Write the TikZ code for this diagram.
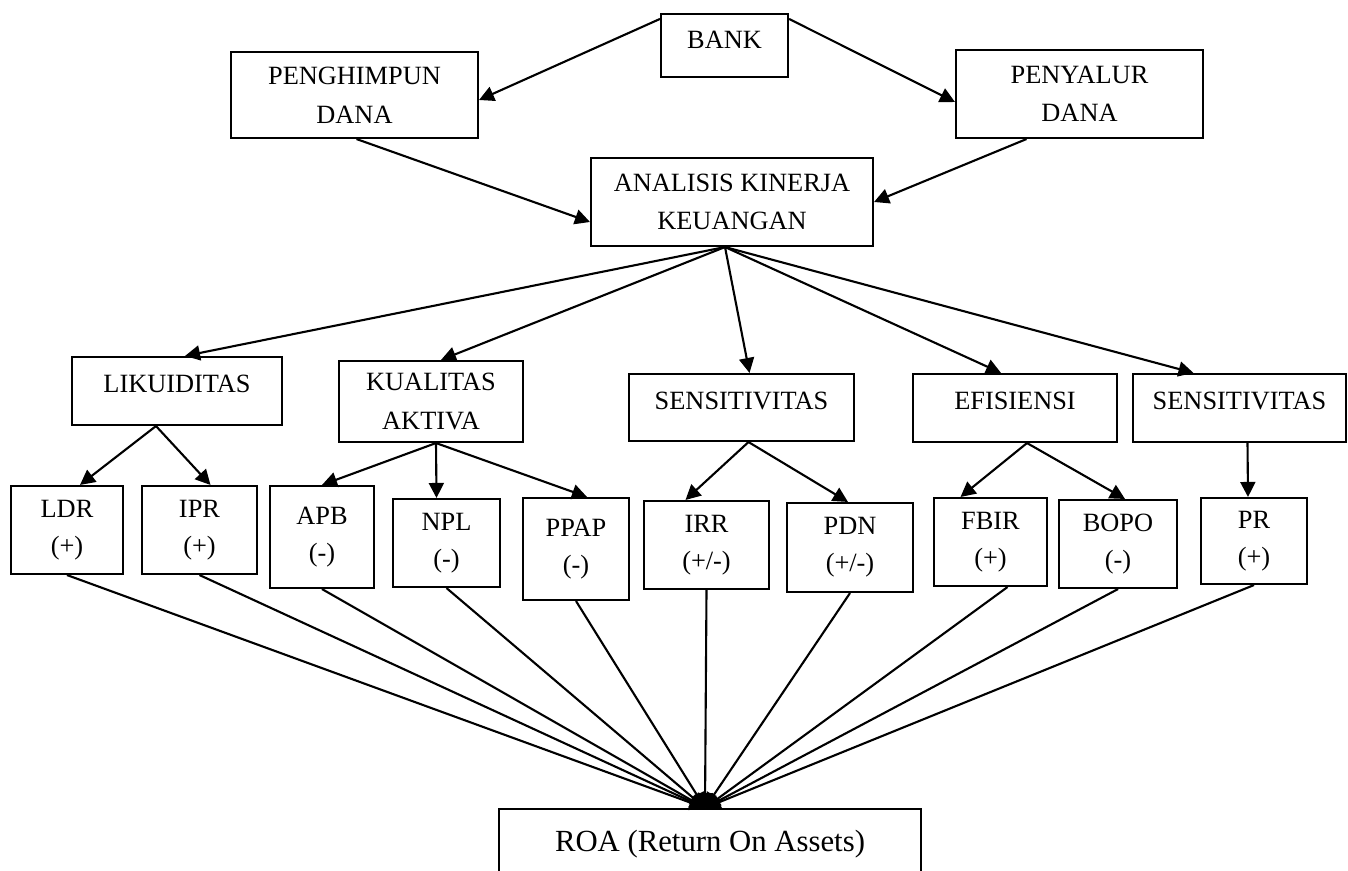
\documentclass[tikz,border=0pt]{standalone}
\usepackage{fontspec}
\setmainfont{Liberation Serif}
\usetikzlibrary{arrows.meta}

\tikzset{
  box/.style={draw,line width=1.2pt,align=center,inner sep=0pt,font=\fontsize{15}{22}\selectfont},
  satu/.style={box,text height=0.34cm,text depth=0.28cm},
  rasio/.style={box,font=\fontsize{15}{21}\selectfont},
}

\begin{document}
\begin{tikzpicture}[x=0.02cm,y=-0.02cm,line width=1.2pt,>={Triangle[length=0.3cm,width=0.3cm]}]
      \useasboundingbox (0,0) rectangle (1348,871);
      % top level
      \node[satu,text depth=0.2cm,minimum width=2.54cm,minimum height=1.26cm] (bank) at (724.5,45.5) {BANK};
      \node[box,minimum width=4.94cm,minimum height=1.72cm] (penghimpun) at (354.5,95) {PENGHIMPUN\\DANA};
      \node[box,minimum width=4.94cm,minimum height=1.76cm] (penyalur) at (1079.5,94) {PENYALUR\\DANA};
      \node[box,minimum width=5.64cm,minimum height=1.76cm] (analisis) at (732,202) {ANALISIS KINERJA\\KEUANGAN};
      % aspek kinerja
      \node[satu,minimum width=4.2cm,minimum height=1.36cm] (likuiditas) at (177,391) {LIKUIDITAS};
      \node[box,minimum width=3.68cm,minimum height=1.62cm] (kualitas) at (431,401.5) {KUALITAS\\AKTIVA};
      \node[satu,minimum width=4.5cm,minimum height=1.34cm] (sensa) at (741.5,407.5) {SENSITIVITAS};
      \node[satu,minimum width=4.08cm,minimum height=1.36cm] (efisiensi) at (1015,408) {EFISIENSI};
      \node[satu,minimum width=4.26cm,minimum height=1.36cm] (sensb) at (1239.5,408) {SENSITIVITAS};
      % rasio
      \node[rasio,minimum width=2.24cm,minimum height=1.76cm] (ldr) at (67,530) {LDR\\(+)};
      \node[rasio,minimum width=2.3cm,minimum height=1.76cm] (ipr) at (199.5,530) {IPR\\(+)};
      \node[rasio,minimum width=2.08cm,minimum height=2.04cm] (apb) at (322,537) {APB\\(-)};
      \node[rasio,minimum width=2.14cm,minimum height=1.76cm] (npl) at (446.5,543) {NPL\\(-)};
      \node[rasio,minimum width=2.12cm,minimum height=2.04cm] (ppap) at (576,549) {PPAP\\(-)};
      \node[rasio,minimum width=2.5cm,minimum height=1.76cm] (irr) at (706.5,545) {IRR\\(+/-)};
      \node[rasio,minimum width=2.52cm,minimum height=1.78cm] (pdn) at (850,547.5) {PDN\\(+/-)};
      \node[rasio,minimum width=2.26cm,minimum height=1.76cm] (fbir) at (990.5,542) {FBIR\\(+)};
      \node[rasio,minimum width=2.36cm,minimum height=1.76cm] (bopo) at (1118,544) {BOPO\\(-)};
      \node[rasio,minimum width=2.12cm,minimum height=1.72cm] (pr) at (1254,541) {PR\\(+)};
      \node[box,minimum width=8.44cm,minimum height=1.42cm,font=\fontsize{17.5}{20}\selectfont] (roa) at (710,844.5) {ROA (Return On Assets)};

      \coordinate (pusat) at ([shift={(-7,0)}]analisis.south);
      \coordinate (masuk) at ([shift={(-5,0)}]roa.north);

      \draw[->] ([shift={(0,6)}]bank.north west) -- ([shift={(0,5)}]penghimpun.east);
      \draw[->] ([shift={(0,6)}]bank.north east) -- ([shift={(0,8)}]penyalur.west);
      \draw[->] ([shift={(2,0)}]penghimpun.south) -- ([shift={(0,20)}]analisis.west);
      \draw[->] ([shift={(-53,0)}]penyalur.south) -- (analisis.east);

      \draw[->] (pusat) -- ([shift={(8,0)}]likuiditas.north);
      \draw[->] (pusat) -- ([shift={(10,0)}]kualitas.north);
      \draw[->] (pusat) -- ([shift={(8,0)}]sensa.north);
      \draw[->] (pusat) -- ([shift={(-14,0)}]efisiensi.north);
      \draw[->] (pusat) -- ([shift={(-46,0)}]sensb.north);

      \draw[->] ([shift={(-21,0)}]likuiditas.south) -- ([shift={(13,0)}]ldr.north);
      \draw[->] ([shift={(-21,0)}]likuiditas.south) -- ([shift={(11,0)}]ipr.north);
      \draw[->] ([shift={(5,0)}]kualitas.south) -- (apb.north);
      \draw[->] ([shift={(5,0)}]kualitas.south) -- ([shift={(-10,0)}]npl.north);
      \draw[->] ([shift={(5,0)}]kualitas.south) -- ([shift={(11,0)}]ppap.north);
      \draw[->] ([shift={(7,0)}]sensa.south) -- ([shift={(-21,0)}]irr.north);
      \draw[->] ([shift={(7,0)}]sensa.south) -- ([shift={(-2,0)}]pdn.north);
      \draw[->] ([shift={(12,0)}]efisiensi.south) -- ([shift={(-30,0)}]fbir.north);
      \draw[->] ([shift={(12,0)}]efisiensi.south) -- ([shift={(7,0)}]bopo.north);
      \draw[->] ([shift={(8,0)}]sensb.south) -- ([shift={(-6,0)}]pr.north);

      % semua rasio ke ROA
      \draw[->] (ldr.south) -- (masuk);
      \draw[->] (ipr.south) -- (masuk);
      \draw[->] (apb.south) -- (masuk);
      \draw[->] (npl.south) -- (masuk);
      \draw[->] (ppap.south) -- (masuk);
      \draw[->] (irr.south) -- (masuk);
      \draw[->] (pdn.south) -- (masuk);
      \draw[->] ([shift={(17,0)}]fbir.south) -- (masuk);
      \draw[->] (bopo.south) -- (masuk);
      \draw[->] (pr.south) -- (masuk);
    \end{tikzpicture}
\end{document}
